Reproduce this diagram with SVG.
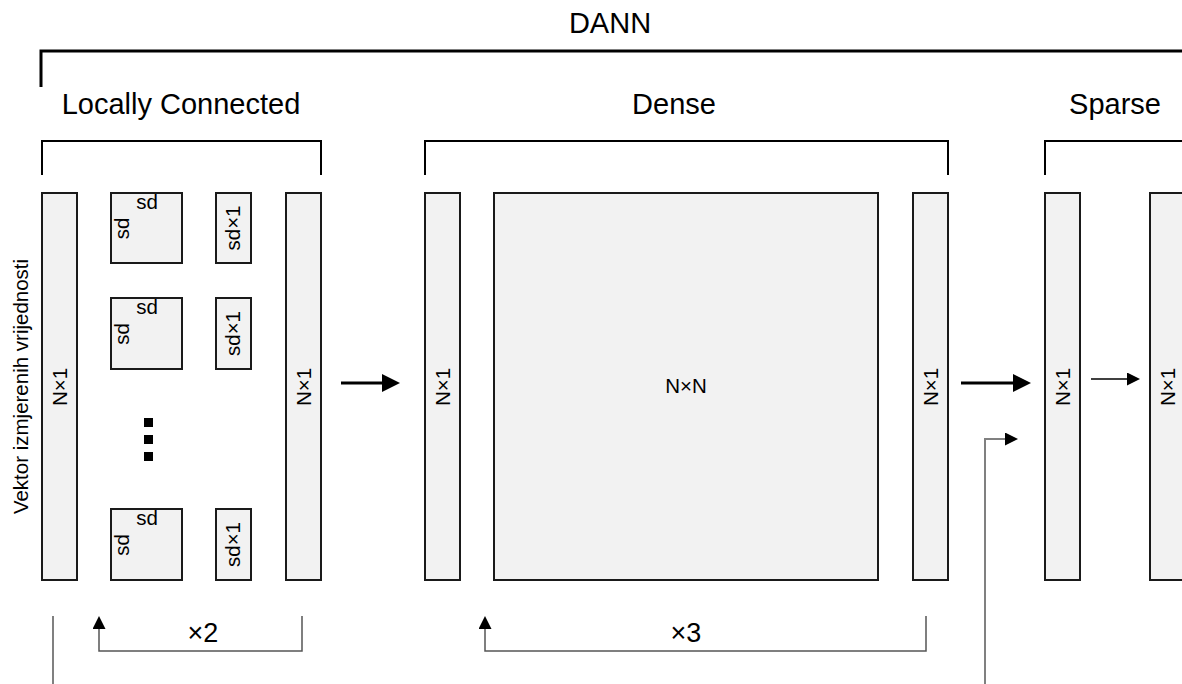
<svg xmlns="http://www.w3.org/2000/svg" width="1182" height="684" viewBox="0 0 1182 684">
<defs>
<style>
text{font-family:"Liberation Sans",Arial,sans-serif;fill:#000}
.h{font-size:29px;text-anchor:middle}
.s{font-size:20.5px;text-anchor:middle}
.m{font-size:27px;text-anchor:middle}
.blk{fill:#f2f2f2;stroke:#1a1a1a;stroke-width:2}
.br{fill:none;stroke:#000;stroke-width:2}
.thick{fill:none;stroke:#000;stroke-width:3}
.thin{fill:none;stroke:#000;stroke-width:1.5}
.loop{fill:none;stroke:#555;stroke-width:1.5}
.gray{fill:none;stroke:#808080;stroke-width:2}
</style>
<marker id="big" markerUnits="userSpaceOnUse" markerWidth="18" markerHeight="18" refX="0" refY="9" orient="auto"><path d="M0,0 L18,9 L0,18 Z" fill="#000"/></marker>
<marker id="small" markerUnits="userSpaceOnUse" markerWidth="13" markerHeight="13" refX="0" refY="6.5" orient="auto"><path d="M0,0 L13,6.5 L0,13 Z" fill="#000"/></marker>
</defs>
<rect width="1182" height="684" fill="#fff"/>

<g id="titles">
<text class="h" x="610" y="33">DANN</text>
<text class="h" x="181" y="114">Locally Connected</text>
<text class="h" x="674" y="114">Dense</text>
<text class="h" x="1115" y="114">Sparse</text>
<path class="thick" d="M41,87 V51 H1182"/>
<path class="br" d="M42,175 V141 H321 V175"/>
<path class="br" d="M425,175 V141 H948 V175"/>
<path class="br" d="M1045,175 V141 H1182"/>
</g>

<g id="input-label"><text class="s" transform="translate(28,386.5) rotate(-90)">Vektor izmjerenih vrijednosti</text></g>

<g id="lc-in"><rect class="blk" x="42" y="193" width="35" height="387"/><text class="s" transform="translate(66.7,387) rotate(-90)">N×1</text></g>

<g id="lc-sd1"><rect class="blk" x="111" y="193" width="71" height="70"/><text class="s" x="147" y="209">sd</text><text class="s" transform="translate(128.5,228.5) rotate(-90)">sd</text></g>
<g id="lc-sd2"><rect class="blk" x="111" y="298" width="71" height="71"/><text class="s" x="147" y="314">sd</text><text class="s" transform="translate(128.5,334) rotate(-90)">sd</text></g>
<g id="lc-sd3"><rect class="blk" x="111" y="509" width="71" height="71"/><text class="s" x="147" y="525">sd</text><text class="s" transform="translate(128.5,545) rotate(-90)">sd</text></g>

<g id="lc-b1"><rect class="blk" x="216" y="193" width="35" height="70"/><text class="s" transform="translate(240,228) rotate(-90)">sd×1</text></g>
<g id="lc-b2"><rect class="blk" x="216" y="298" width="35" height="71"/><text class="s" transform="translate(240,333.5) rotate(-90)">sd×1</text></g>
<g id="lc-b3"><rect class="blk" x="216" y="509" width="35" height="71"/><text class="s" transform="translate(240,544.5) rotate(-90)">sd×1</text></g>

<g id="dots"><rect x="144" y="418" width="9" height="9"/><rect x="144" y="435" width="9" height="9"/><rect x="144" y="452" width="9" height="9"/></g>

<g id="lc-out"><rect class="blk" x="286" y="193" width="35" height="387"/><text class="s" transform="translate(310.7,387) rotate(-90)">N×1</text></g>

<g id="d-in"><rect class="blk" x="425" y="193" width="35" height="387"/><text class="s" transform="translate(449.7,387) rotate(-90)">N×1</text></g>
<g id="d-w"><rect class="blk" x="494" y="193" width="384" height="387"/><text class="s" x="686" y="393">N×N</text></g>
<g id="d-out"><rect class="blk" x="913" y="193" width="35" height="387"/><text class="s" transform="translate(937.7,387) rotate(-90)">N×1</text></g>

<g id="s-in"><rect class="blk" x="1045" y="193" width="35" height="387"/><text class="s" transform="translate(1069.7,387) rotate(-90)">N×1</text></g>
<g id="s-out"><rect class="blk" x="1150" y="193" width="35" height="387"/><text class="s" transform="translate(1174.7,387) rotate(-90)">N×1</text></g>

<g id="connectors">
<path class="thick" d="M341,383 H382" marker-end="url(#big)"/>
<path class="thick" d="M961,383 H1013" marker-end="url(#big)"/>
<path class="thin" d="M1091,379 H1127" marker-end="url(#small)"/>
<path class="gray" d="M985,684 V439 H1005" marker-end="url(#small)"/>
<path class="gray" d="M53,616 V684"/>
<path class="loop" d="M302,616 V651 H99 V629" marker-end="url(#small)"/>
<path class="loop" d="M926,616 V651 H485 V629" marker-end="url(#small)"/>
<text class="m" x="203" y="642">×2</text>
<text class="m" x="686" y="642">×3</text>
</g>
</svg>
